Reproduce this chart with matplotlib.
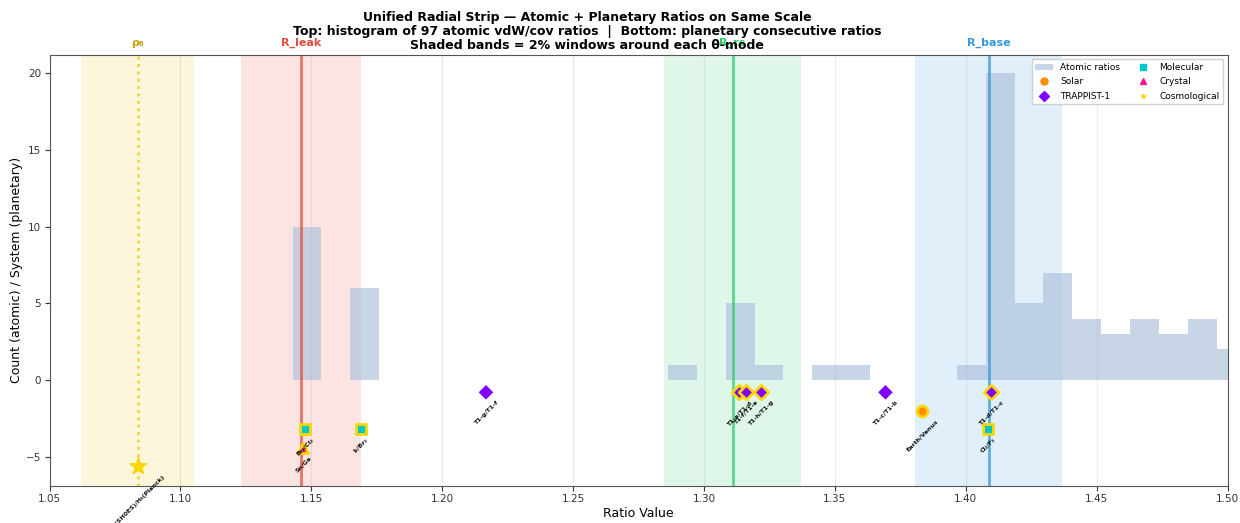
import matplotlib
matplotlib.use("Agg")
import matplotlib.pyplot as plt
from matplotlib.lines import Line2D
from matplotlib.patches import Patch
import numpy as np

# ---- data ----
bin_width = 0.01103
hist_left = [1.1428, 1.1649, 1.2862, 1.3083, 1.3193, 1.3414, 1.3524, 1.3965,
             1.4076, 1.4186, 1.4296, 1.4407, 1.4517, 1.4627, 1.4738, 1.4848, 1.4958]
hist_counts = [10, 6, 1, 5, 1, 1, 1, 1, 20, 5, 7, 4, 3, 4, 3, 4, 2]

mode_names = ["ρ₆", "R_leak", "R_rc", "R_base"]
mode_values = [1.0836, 1.1459, 1.3109, 1.4087]
mode_colors = ["#f1c40f", "#e74c3c", "#2ecc71", "#3498db"]
mode_text_colors = ["#c9a010", "#e74c3c", "#2ecc71", "#3498db"]
mode_styles = [":", "-", "-", "-"]

trappist_labels = ["T1-c/T1-b", "T1-d/T1-c", "T1-e/T1-d", "T1-f/T1-e", "T1-g/T1-f", "T1-h/T1-g"]
trappist_values = [1.3693, 1.4095, 1.3134, 1.3159, 1.2167, 1.3216]
solar_labels = ["Earth/Venus"]
solar_values = [1.3831]
molecular_labels = ["Br₂/Cl₂", "I₂/Br₂", "Cl₂/F₂"]
molecular_values = [1.1474, 1.1688, 1.4083]
crystal_labels = ["Sn/Ge"]
crystal_values = [1.1468]
cosmo_labels = ["H₀(SH0ES)/H₀(Planck)"]
cosmo_values = [1.0836]

row_y = {"TRAPPIST-1": -0.8, "Solar": -2.0, "Molecular": -3.2, "Crystal": -4.4, "Cosmological": -5.6}

fig = plt.figure(figsize=(12.4, 5.23), dpi=100)
ax = fig.add_axes([0.040, 0.071, 0.950, 0.824])

# bands and mode lines
for name, v, c, tc, ls in zip(mode_names, mode_values, mode_colors, mode_text_colors, mode_styles):
    ax.axvspan(v * 0.98, v * 1.02, color=c, alpha=0.15, lw=0, zorder=0)
    ax.axvline(v, color=c, ls=ls, lw=2, alpha=0.75, zorder=2)
    ax.text(v, 1.015, name, transform=ax.get_xaxis_transform(), ha="center", va="bottom",
            color=tc, fontsize=8, fontweight="bold")

# histogram
ax.bar(hist_left, hist_counts, width=bin_width, align="edge", color="lightsteelblue",
       alpha=0.7, lw=0, zorder=1)

def in_window(x):
    return any(abs(x - m) / m <= 0.02 for m in mode_values)

LABEL_FS = 4.5

def plot_group(labels, values, key, marker, color, size):
    y = row_y[key]
    for lab, x in zip(labels, values):
        hit = in_window(x)
        ax.scatter([x], [y], marker=marker, s=size, color=color,
                   edgecolors="gold" if hit else "none", linewidths=2 if hit else 0, zorder=5)
        ax.text(x, y - 0.5, lab, rotation=45, ha="center", va="top", fontsize=LABEL_FS,
                color="#111111", fontweight="bold", zorder=6)

plot_group(trappist_labels, trappist_values, "TRAPPIST-1", "D", "#8000ff", 55)
plot_group(solar_labels, solar_values, "Solar", "o", "#ff8c00", 60)
plot_group(molecular_labels, molecular_values, "Molecular", "s", "#00c8c8", 50)
plot_group(crystal_labels, crystal_values, "Crystal", "^", "#ff1493", 55)
y = row_y["Cosmological"]
for lab, x in zip(cosmo_labels, cosmo_values):
    ax.scatter([x], [y], marker="*", s=160, color="gold", zorder=5)
    ax.text(x, y - 0.5, lab, rotation=45, ha="center", va="top", fontsize=LABEL_FS,
            color="#111111", fontweight="bold", zorder=6)

ax.set_xlim(1.05, 1.50)
ax.set_ylim(-6.9, 21.2)
ticks = np.arange(1.05, 1.501, 0.05)
ax.set_xticks(ticks)
ax.set_xticklabels([f"{t:.2f}" for t in ticks])
ax.set_yticks([-5, 0, 5, 10, 15, 20])
ax.tick_params(labelsize=7.5, colors="#333333", pad=2.5)
ax.grid(axis="x", alpha=0.25, zorder=0)
for s in ax.spines.values():
    s.set_color("#555555")
ax.set_xlabel("Ratio Value", fontsize=9, labelpad=2)
ax.set_ylabel("Count (atomic) / System (planetary)", fontsize=9, labelpad=2)
fig.text(587 / 1240, 1 - 11 / 523,
         "Unified Radial Strip — Atomic + Planetary Ratios on Same Scale\n"
         "Top: histogram of 97 atomic vdW/cov ratios  |  Bottom: planetary consecutive ratios\n"
         "Shaded bands = 2% windows around each θ-mode",
         fontsize=9.0, fontweight="bold", ha="center", va="top", multialignment="center",
         linespacing=1.1)

handles = [
    Patch(facecolor="lightsteelblue", alpha=0.7, label="Atomic ratios"),
    Line2D([], [], ls="", marker="o", color="#ff8c00", markersize=5, label="Solar"),
    Line2D([], [], ls="", marker="D", color="#8000ff", markersize=5, label="TRAPPIST-1"),
    Line2D([], [], ls="", marker="s", color="#00c8c8", markersize=5, label="Molecular"),
    Line2D([], [], ls="", marker="^", color="#ff1493", markersize=5, label="Crystal"),
    Line2D([], [], ls="", marker="*", color="gold", markersize=3, label="Cosmological"),
]
ax.legend(handles=handles, ncol=2, loc="upper right", fontsize=6.5, framealpha=0.9,
          labelspacing=0.6, columnspacing=1.5)

fig.savefig("out.png", dpi=100)
